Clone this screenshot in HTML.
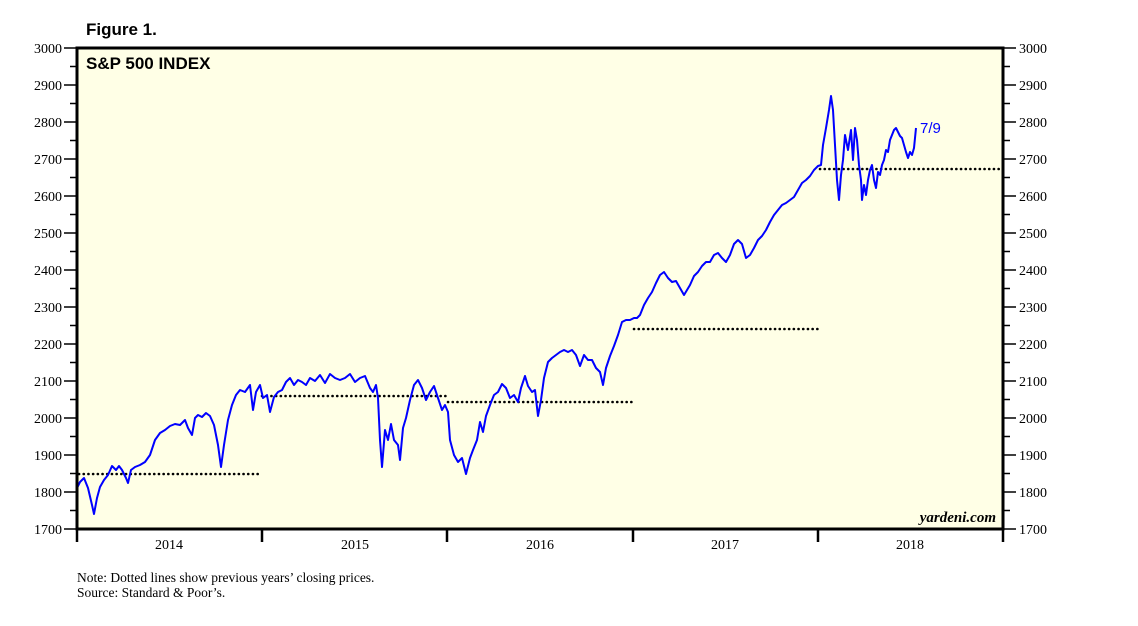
<!DOCTYPE html><html><head><style>body{margin:0;background:#fff}svg text{font-family:"Liberation Serif",serif}</style></head><body>
<svg width="1138" height="621" xmlns="http://www.w3.org/2000/svg">
<rect x="77" y="48" width="926" height="481" fill="#ffffe6"/>
<text x="86" y="35" font-weight="bold" font-size="17" style="font-family:'Liberation Sans',sans-serif">Figure 1.</text>
<text x="86" y="69" font-weight="bold" font-size="17" style="font-family:'Liberation Sans',sans-serif">S&amp;P 500 INDEX</text>
<g stroke="#000" stroke-width="2.6" stroke-dasharray="0.1,4.6" stroke-linecap="round">
<line x1="79" y1="474" x2="262" y2="474"/><line x1="262" y1="396" x2="448" y2="396"/><line x1="448" y1="402" x2="634" y2="402"/><line x1="634" y1="329" x2="820" y2="329"/><line x1="820" y1="169" x2="1001" y2="169"/></g>
<polyline fill="none" stroke="#0000ff" stroke-width="2" stroke-linejoin="round" points="77,488 80,482 84,478 88,488 92,505 94,514 97,498 100,487 104,480 108,475 112,466 116,470 119,466 122,470 126,478 128,483 131,470 135,467 140,465 145,462 150,455 155,440 160,433 165,430 170,426 175,424 180,425 185,420 188,428 192,435 195,418 198,415 202,417 206,413 210,416 214,425 218,445 221,467 224,445 228,420 232,405 236,395 240,390 245,392 250,385 253,410 256,392 260,385 263,398 267,395 270,412 274,397 278,392 282,390 286,382 290,378 294,385 298,380 302,382 306,385 310,378 315,381 320,375 325,383 330,374 335,378 340,380 345,378 350,374 355,382 360,378 365,376 370,388 373,392 376,385 378,398 380,440 382,467 385,430 388,440 391,424 394,440 398,445 400,460 403,428 406,418 410,400 414,385 418,380 422,388 426,400 430,392 434,386 438,398 442,410 445,405 448,412 450,440 454,455 458,462 462,458 466,474 470,458 473,450 477,440 480,422 483,432 486,416 490,405 494,395 498,392 502,384 506,388 510,398 514,395 518,402 521,388 525,376 528,386 532,392 535,390 538,416 541,400 544,378 548,362 552,358 556,355 560,352 564,350 568,352 572,350 576,355 580,366 584,355 588,360 592,360 596,368 600,372 603,385 606,368 610,356 614,346 618,335 622,322 626,320 630,320 634,318 637,318 640,315 644,305 648,298 652,292 656,283 660,275 664,272 668,278 672,282 676,281 680,288 684,295 687,290 690,285 694,276 698,272 702,266 706,262 710,262 714,255 718,253 722,258 726,262 730,255 734,244 738,240 742,244 746,258 750,255 754,248 758,240 762,236 766,230 770,222 774,215 778,210 782,205 786,203 790,200 794,197 798,190 802,183 806,180 810,176 814,170 818,166 821,165 823,145 826,128 829,110 831,96 833,110 835,145 837,180 839,200 841,175 843,160 845,135 848,150 851,130 853,160 855,128 857,140 859,165 861,180 862,200 864,185 866,195 868,180 870,170 872,165 874,180 876,188 878,172 880,175 882,165 884,160 886,150 888,152 890,140 892,135 894,130 896,128 898,132 900,136 902,138 904,145 906,152 908,158 910,152 912,155 914,148 916,128"/>
<text x="920" y="133" fill="#0000ff" font-size="15" style="font-family:'Liberation Sans',sans-serif">7/9</text>
<text x="996" y="522" text-anchor="end" font-size="15" font-style="italic" font-weight="bold">yardeni.com</text>
<rect x="77" y="48" width="926" height="481" fill="none" stroke="#000" stroke-width="3"/>
<g stroke="#000" stroke-width="2.5">
<line x1="77" y1="529" x2="77" y2="542"/><line x1="262" y1="529" x2="262" y2="542"/><line x1="447" y1="529" x2="447" y2="542"/><line x1="633" y1="529" x2="633" y2="542"/><line x1="818" y1="529" x2="818" y2="542"/><line x1="1003" y1="529" x2="1003" y2="542"/></g>
<g font-size="14" text-anchor="middle"><text x="169" y="549">2014</text><text x="355" y="549">2015</text><text x="540" y="549">2016</text><text x="725" y="549">2017</text><text x="910" y="549">2018</text></g>
<text x="77" y="582" font-size="13.5">Note: Dotted lines show previous years’ closing prices.</text>
<text x="77" y="597" font-size="13.5">Source: Standard &amp; Poor’s.</text>
<g stroke="#000" stroke-width="1.5">
<path d="M64 48H77M64 85H77M64 122H77M64 159H77M64 196H77M64 233H77M64 270H77M64 307H77M64 344H77M64 381H77M64 418H77M64 455H77M64 492H77M64 529H77M70 66.5H77M70 103.5H77M70 140.5H77M70 177.5H77M70 214.5H77M70 251.5H77M70 288.5H77M70 325.5H77M70 362.5H77M70 399.5H77M70 436.5H77M70 473.5H77M70 510.5H77"/>
<path d="M1003 48H1016M1003 85H1016M1003 122H1016M1003 159H1016M1003 196H1016M1003 233H1016M1003 270H1016M1003 307H1016M1003 344H1016M1003 381H1016M1003 418H1016M1003 455H1016M1003 492H1016M1003 529H1016M1003 66.5H1010M1003 103.5H1010M1003 140.5H1010M1003 177.5H1010M1003 214.5H1010M1003 251.5H1010M1003 288.5H1010M1003 325.5H1010M1003 362.5H1010M1003 399.5H1010M1003 436.5H1010M1003 473.5H1010M1003 510.5H1010"/></g>
<g font-size="14" text-anchor="end">
<text x="62" y="53">3000</text><text x="62" y="90">2900</text><text x="62" y="127">2800</text><text x="62" y="164">2700</text><text x="62" y="201">2600</text><text x="62" y="238">2500</text><text x="62" y="275">2400</text><text x="62" y="312">2300</text><text x="62" y="349">2200</text><text x="62" y="386">2100</text><text x="62" y="423">2000</text><text x="62" y="460">1900</text><text x="62" y="497">1800</text><text x="62" y="534">1700</text></g>
<g font-size="14">
<text x="1019" y="53">3000</text><text x="1019" y="90">2900</text><text x="1019" y="127">2800</text><text x="1019" y="164">2700</text><text x="1019" y="201">2600</text><text x="1019" y="238">2500</text><text x="1019" y="275">2400</text><text x="1019" y="312">2300</text><text x="1019" y="349">2200</text><text x="1019" y="386">2100</text><text x="1019" y="423">2000</text><text x="1019" y="460">1900</text><text x="1019" y="497">1800</text><text x="1019" y="534">1700</text></g>
</svg></body></html>
